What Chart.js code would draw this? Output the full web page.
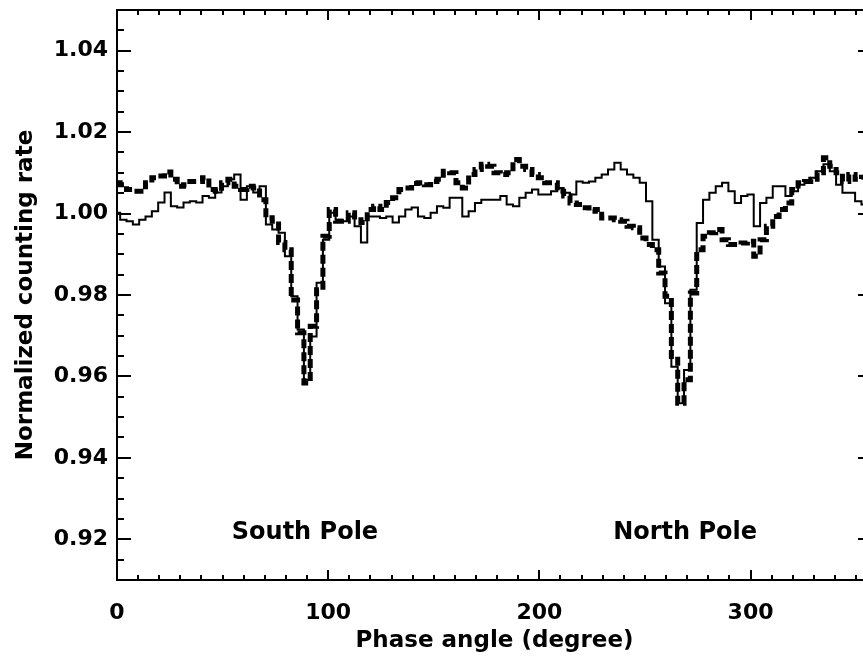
<!DOCTYPE html>
<html>
<head>
<meta charset="utf-8">
<script src="https://cdn.jsdelivr.net/npm/chart.js@4.4.1/dist/chart.umd.min.js"></script>
<style>
  html, body { margin: 0; padding: 0; background: #ffffff; overflow: hidden; }
  #wrap { width: 880px; height: 657px; }
</style>
</head>
<body>
<div id="wrap"><canvas id="c" width="880" height="657"></canvas></div>
<script>
// Phase angle bins (degree)
const phase = [0,3,6,9,12,15,18,21,24,27,30,33,36,39,42,45,48,51,54,57,60,63,66,69,72,75,78,81,84,87,90,93,96,99,102,105,108,111,114,117,120,123,126,129,132,135,138,141,144,147,150,153,156,159,162,165,168,171,174,177,180,183,186,189,192,195,198,201,204,207,210,213,216,219,222,225,228,231,234,237,240,243,246,249,252,255,258,261,264,267,270,273,276,279,282,285,288,291,294,297,300,303,306,309,312,315,318,321,324,327,330,333,336,339,342,345,348,351,354];

// Solid (thin) histogram
const solidRate = [1.0002,0.9985,0.9981,0.9973,0.9985,0.9993,1.0006,1.0027,1.0052,1.0018,1.0015,1.0027,1.0030,1.0027,1.0043,1.0039,1.0052,1.0067,1.0084,1.0096,1.0034,1.0067,1.0052,1.0067,0.9973,0.9961,0.9953,0.9895,0.9797,0.9715,0.9592,0.9698,0.9830,0.9936,1.0002,0.9985,0.9981,0.9993,0.9969,0.9929,0.9993,0.9993,0.9989,0.9993,0.9978,0.9993,1.0010,1.0015,0.9993,0.9989,1.0002,1.0018,1.0014,1.0039,1.0039,0.9993,1.0006,1.0026,1.0034,1.0034,1.0034,1.0043,1.0022,1.0018,1.0039,1.0051,1.0059,1.0047,1.0047,1.0055,1.0063,1.0051,1.0047,1.0079,1.0076,1.0079,1.0088,1.0096,1.0108,1.0125,1.0108,1.0096,1.0088,1.0076,1.0030,0.9936,0.9870,0.9780,0.9624,0.9534,0.9616,0.9813,0.9977,1.0034,1.0051,1.0067,1.0076,1.0055,1.0026,1.0043,1.0047,0.9969,1.0026,1.0039,1.0067,1.0067,1.0043,1.0055,1.0071,1.0079,1.0088,1.0104,1.0121,1.0104,1.0071,1.0051,1.0051,1.0030,1.0022];

// Dashed (thick) histogram
const dashedRate = [1.0076,1.0071,1.0059,1.0055,1.0055,1.0076,1.0088,1.0092,1.0102,1.0084,1.0067,1.0071,1.0079,1.0079,1.0088,1.0059,1.0055,1.0076,1.0084,1.0067,1.0059,1.0067,1.0063,1.0034,0.9990,0.9981,0.9929,0.9911,0.9788,0.9707,0.9584,0.9723,0.9813,0.9944,1.0010,0.9981,0.9981,1.0002,0.9985,0.9978,1.0010,1.0018,1.0010,1.0027,1.0039,1.0059,1.0063,1.0074,1.0076,1.0071,1.0079,1.0084,1.0104,1.0100,1.0076,1.0063,1.0096,1.0108,1.0121,1.0116,1.0100,1.0096,1.0100,1.0133,1.0116,1.0108,1.0096,1.0088,1.0076,1.0076,1.0055,1.0043,1.0026,1.0022,1.0014,1.0006,1.0010,0.9989,0.9989,0.9985,0.9981,0.9969,0.9965,0.9940,0.9924,0.9911,0.9854,0.9797,0.9649,0.9534,0.9592,0.9805,0.9911,0.9944,0.9953,0.9961,0.9936,0.9924,0.9924,0.9928,0.9932,0.9895,0.9936,0.9969,0.9993,1.0010,1.0026,1.0059,1.0076,1.0079,1.0084,1.0100,1.0137,1.0116,1.0100,1.0079,1.0096,1.0084,1.0089];

// Axis tick labels
const xTicks = [0, 100, 200, 300];
const yTicks = [0.92, 0.94, 0.96, 0.98, 1.00, 1.02, 1.04];

// Annotations
const annLabels = ['South Pole', 'North Pole'];
const annX = [89, 269];
const annY = [0.9215, 0.9215];

const FONT = "'DejaVu Sans', sans-serif";

const framePlugin = {
  id: 'frame',
  afterDatasetsDraw(chart) {
    const {ctx, chartArea: a, scales: {x, y}} = chart;
    ctx.save();
    ctx.strokeStyle = '#000';
    ctx.lineWidth = 2;
    ctx.lineCap = 'butt';
    ctx.strokeRect(a.left, a.top, a.right - a.left, a.bottom - a.top);
    ctx.beginPath();
    // x ticks (every 10, major every 100)
    for (let v = x.min; v <= x.max + 1e-9; v += 10) {
      const px = Math.round(x.getPixelForValue(v));
      const major = Math.abs(v % 100) < 1e-6;
      const len = major ? 10 : 5;
      ctx.moveTo(px, a.bottom); ctx.lineTo(px, a.bottom - len);
      ctx.moveTo(px, a.top); ctx.lineTo(px, a.top + len);
    }
    // y ticks (every 0.005, major every 0.02)
    for (let k = Math.ceil(y.min / 0.005 - 1e-6); k * 0.005 <= y.max + 1e-9; k++) {
      const v = k * 0.005;
      const py = Math.round(y.getPixelForValue(v));
      const major = k % 4 === 0;
      const len = major ? 14 : 7;
      ctx.moveTo(a.left, py); ctx.lineTo(a.left + len, py);
      ctx.moveTo(a.right, py); ctx.lineTo(a.right - len, py);
    }
    ctx.stroke();
    // annotations
    ctx.fillStyle = '#000';
    ctx.font = "bold 24px " + FONT;
    ctx.textAlign = 'center';
    ctx.textBaseline = 'middle';
    annLabels.forEach((t, i) => {
      ctx.fillText(t, x.getPixelForValue(annX[i]), y.getPixelForValue(annY[i]));
    });
    ctx.restore();
  }
};

new Chart(document.getElementById('c'), {
  type: 'line',
  data: {
    datasets: [
      {
        data: phase.map((p, i) => ({x: p, y: solidRate[i]})),
        borderColor: '#000',
        borderWidth: 2,
        pointRadius: 0,
        stepped: 'middle',
        fill: false
      },
      {
        data: phase.map((p, i) => ({x: p, y: dashedRate[i]})),
        borderColor: '#000',
        borderWidth: 5,
        borderDash: [9, 4],
        pointRadius: 0,
        stepped: 'middle',
        fill: false
      }
    ]
  },
  options: {
    responsive: false,
    maintainAspectRatio: false,
    animation: false,
    events: [],
    layout: { padding: { left: 0, right: 8, top: 10, bottom: 0 } },
    plugins: { legend: { display: false }, tooltip: { enabled: false } },
    scales: {
      x: {
        type: 'linear',
        min: 0,
        max: 357.5,
        afterBuildTicks: s => { s.ticks = xTicks.map(v => ({value: v})); },
        afterFit: s => { s.height = 77; s.paddingLeft = 0; s.paddingRight = 0; },
        grid: { display: false, drawTicks: false },
        border: { display: false },
        ticks: {
          autoSkip: false, maxRotation: 0, padding: 20, color: '#000',
          font: { family: FONT, size: 22, weight: 'bold' },
          callback: v => String(v)
        },
        title: {
          display: true, text: 'Phase angle (degree)', color: '#000',
          font: { family: FONT, size: 23, weight: 'bold' },
          padding: { top: 0, bottom: 2 }
        }
      },
      y: {
        type: 'linear',
        min: 0.91,
        max: 1.05,
        afterBuildTicks: s => { s.ticks = yTicks.map(v => ({value: v})); },
        afterFit: s => { s.width = 117; s.paddingTop = 0; s.paddingBottom = 0; },
        grid: { display: false, drawTicks: false },
        border: { display: false },
        ticks: {
          autoSkip: false, padding: 9, color: '#000',
          font: { family: FONT, size: 22, weight: 'bold' },
          callback: v => Number(v).toFixed(2)
        },
        title: {
          display: true, text: 'Normalized counting rate', color: '#000',
          font: { family: FONT, size: 23, weight: 'bold' },
          padding: { top: 12, bottom: 0 }
        }
      }
    }
  },
  plugins: [framePlugin]
});
</script>
</body>
</html>
